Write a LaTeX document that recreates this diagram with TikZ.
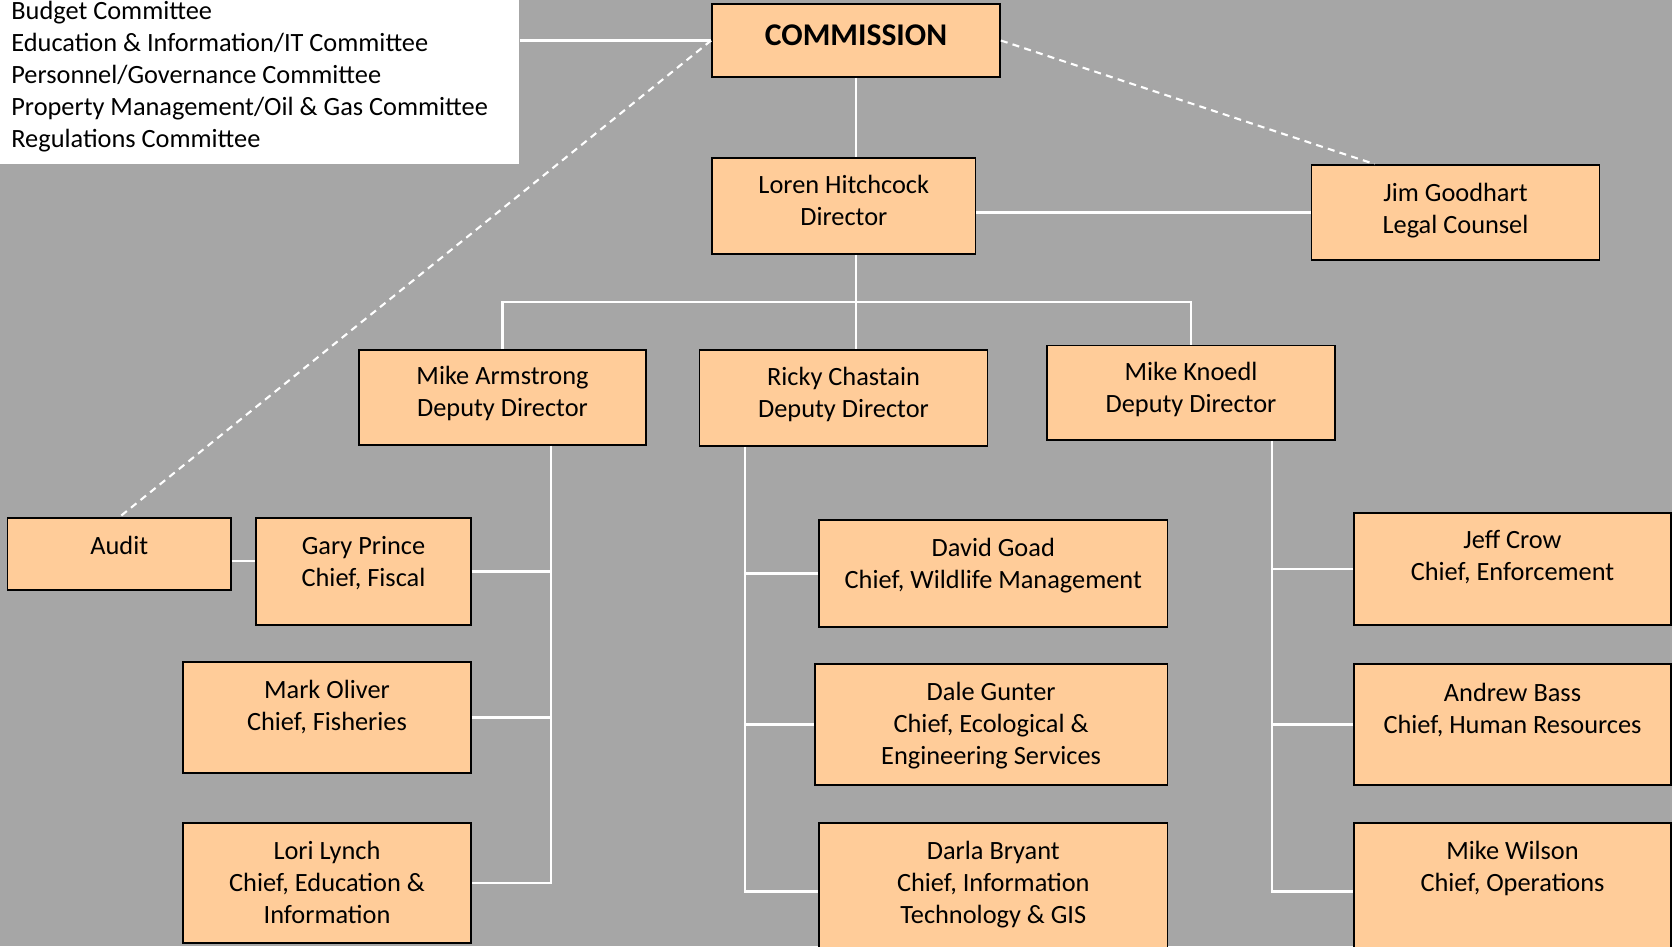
\documentclass[tikz,border=0pt]{standalone}
\usepackage{fontspec}
\setmainfont{Carlito}
\definecolor{bggray}{RGB}{166,166,166}
\definecolor{peach}{RGB}{255,204,153}

\tikzset{
  box/.style={draw=black, line width=1pt, fill=peach, inner sep=0pt},
  txt/.style={align=center, inner sep=0pt, font=\fontsize{15pt}{18.2pt}\selectfont},
  conn/.style={white, line width=1.2pt},
  dashconn/.style={white, line width=1.2pt, dash pattern=on 4pt off 3pt}
}

\begin{document}
\begin{tikzpicture}[x=0.02cm, y=-0.02cm]
	\useasboundingbox (0,0) rectangle (1672,946);
	\fill[bggray] (0,0) rectangle (1672,946);
	% committees
	\node[fill=white, inner sep=0pt, minimum width=10.38cm, minimum height=3.28cm, anchor=north west] (cmte) at (0,0) {};
	\node[txt, align=left, anchor=north west] (cmte-t) at (11,1) {Budget Committee\\Education \& Information/IT Committee\\Personnel/Governance Committee\\Property Management/Oil \& Gas Committee\\Regulations Committee};
	% top
	\node[box, minimum width=5.76cm, minimum height=1.46cm] (comm) at (856,40.5) {};
	\node[txt, font=\fontsize{18pt}{21pt}\selectfont\bfseries] (comm-t) at ([yshift=0.11cm]comm) {COMMISSION};
	\node[box, minimum width=5.27cm, minimum height=1.92cm] (dir) at (843.8,206) {};
	\node[txt] (dir-t) at ([yshift=0.11cm]dir) {Loren Hitchcock\\Director};
	\node[box, minimum width=5.76cm, minimum height=1.90cm] (legal) at (1455.5,212.5) {};
	\node[txt] (legal-t) at ([yshift=0.03cm]legal) {Jim Goodhart\\Legal Counsel};
	% deputies
	\node[box, minimum width=5.74cm, minimum height=1.90cm] (armstrong) at (502.5,397.5) {};
	\node[txt] (armstrong-t) at ([yshift=0.09cm]armstrong) {Mike Armstrong\\Deputy Director};
	\node[box, minimum width=5.76cm, minimum height=1.92cm] (chastain) at (843.5,398) {};
	\node[txt] (chastain-t) at ([yshift=0.07cm]chastain) {Ricky Chastain\\Deputy Director};
	\node[box, minimum width=5.76cm, minimum height=1.89cm] (knoedl) at (1191,392.8) {};
	\node[txt] (knoedl-t) at ([yshift=0.06cm]knoedl) {Mike Knoedl\\Deputy Director};
	% chiefs, left
	\node[box, minimum width=4.47cm, minimum height=1.44cm] (audit) at (119.3,554) {};
	\node[txt] (audit-t) at ([yshift=0.18cm]audit) {Audit};
	\node[box, minimum width=4.30cm, minimum height=2.14cm] (prince) at (363.5,571.5) {};
	\node[txt] (prince-t) at ([yshift=0.17cm]prince) {Gary Prince\\Chief, Fiscal};
	\node[box, minimum width=5.76cm, minimum height=2.22cm] (oliver) at (327,717.5) {};
	\node[txt] (oliver-t) at ([yshift=0.21cm]oliver) {Mark Oliver\\Chief, Fisheries};
	\node[box, minimum width=5.76cm, minimum height=2.40cm] (lynch) at (327,883) {};
	\node[txt] (lynch-t) at ([yshift=0.02cm]lynch) {Lori Lynch\\Chief, Education \&\\Information};
	% chiefs, middle
	\node[box, minimum width=6.97cm, minimum height=2.14cm] (goad) at (993.3,573.5) {};
	\node[txt] (goad-t) at ([yshift=0.15cm]goad) {David Goad\\Chief, Wildlife Management};
	\node[box, minimum width=7.06cm, minimum height=2.42cm] (gunter) at (991.1,724.5) {};
	\node[txt] (gunter-t) at ([yshift=-0.03cm]gunter) {Dale Gunter\\Chief, Ecological \&\\Engineering Services};
	\node[box, minimum width=6.97cm, minimum height=2.74cm] (bryant) at (993.3,891.5) {};
	\node[txt] (bryant-t) at ([yshift=0.13cm]bryant) {Darla Bryant\\Chief, Information\\Technology \& GIS};
	% chiefs, right
	\node[box, minimum width=6.34cm, minimum height=2.24cm] (crow) at (1512.5,569) {};
	\node[txt] (crow-t) at ([yshift=0.23cm]crow) {Jeff Crow\\Chief, Enforcement};
	\node[box, minimum width=6.34cm, minimum height=2.42cm] (bass) at (1512.5,724.5) {};
	\node[txt] (bass-t) at ([yshift=0.29cm]bass) {Andrew Bass\\Chief, Human Resources};
	\node[box, minimum width=6.34cm, minimum height=2.74cm] (wilson) at (1512.5,891.5) {};
	\node[txt] (wilson-t) at ([yshift=0.47cm]wilson) {Mike Wilson\\Chief, Operations};
	% lines
	\draw[conn] (comm.west -| cmte.east) -- (comm.west);
	\draw[dashconn] (comm.west) -- (audit.north);
	\draw[dashconn] (comm.east) -- ([xshift=1.28cm]legal.north west);
	\draw[conn] (comm.south) -- (comm.south |- dir.north);
	\draw[conn] (legal.west -| dir.east) -- (legal.west);
	\coordinate (bus) at (856,302);
	\draw[conn] (comm.south |- dir.south) -- (comm.south |- chastain.north);
	\draw[conn] (armstrong.north) |- (bus) -| (knoedl.north);
	\coordinate (armbus) at ([xshift=0.97cm]armstrong.south);
	\coordinate (chabus) at ([xshift=-1.97cm]chastain.south);
	\coordinate (knobus) at ([xshift=1.62cm]knoedl.south);
	\draw[conn] (armbus) |- (lynch.east);
	\draw[conn] (prince.east) -- (prince.east -| armbus);
	\draw[conn] (oliver.east) -- (oliver.east -| armbus);
	\draw[conn] ([yshift=-0.14cm]audit.east) -- ([yshift=-0.14cm]audit.east -| prince.west);
	\draw[conn] (chabus) |- (bryant.west);
	\draw[conn] (goad.west) -- (goad.west -| chabus);
	\draw[conn] (gunter.west) -- (gunter.west -| chabus);
	\draw[conn] (knobus) |- (wilson.west);
	\draw[conn] (crow.west) -- (crow.west -| knobus);
	\draw[conn] (bass.west) -- (bass.west -| knobus);
\end{tikzpicture}
\end{document}
